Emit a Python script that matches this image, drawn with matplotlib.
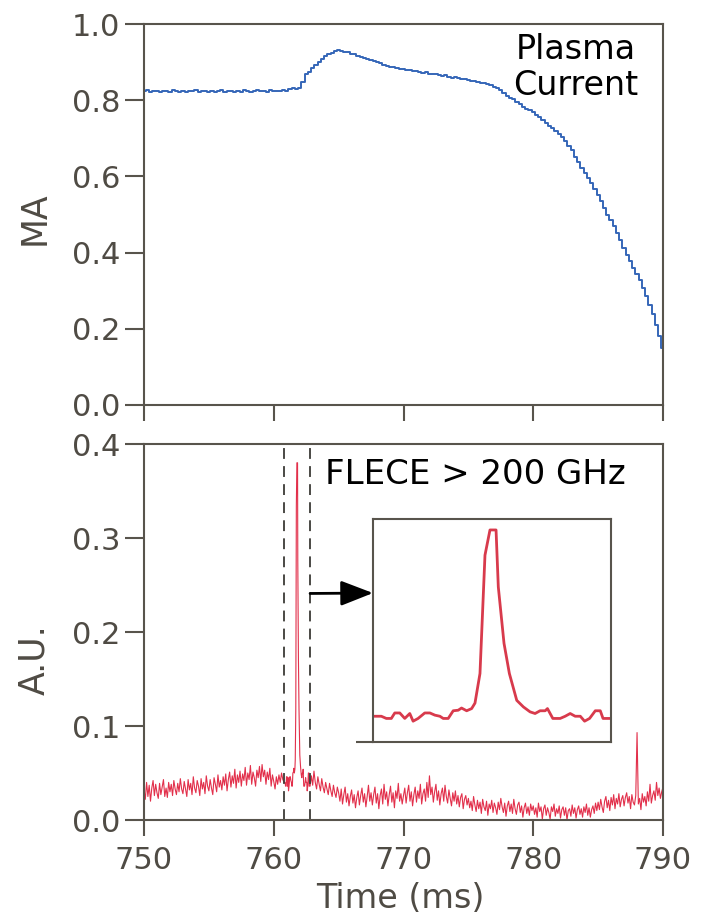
import numpy as np
import matplotlib
matplotlib.use("Agg")
import matplotlib.pyplot as plt

# plasma current (MA), sampled every 0.25 ms from 750 to 790 ms
current_t0 = 750.0
current_dt = 0.25
current_ma = [
    0.823, 0.826, 0.822, 0.825, 0.823, 0.821, 0.825, 0.824, 0.822, 0.826,
    0.823, 0.822, 0.824, 0.821, 0.825, 0.823, 0.826, 0.822, 0.824, 0.823,
    0.821, 0.825, 0.822, 0.824, 0.826, 0.822, 0.823, 0.825, 0.821, 0.824,
    0.822, 0.826, 0.823, 0.821, 0.825, 0.827, 0.823, 0.825, 0.822, 0.826,
    0.824, 0.823, 0.825, 0.826, 0.824, 0.830, 0.831, 0.830, 0.833, 0.848,
    0.868, 0.874, 0.885, 0.893, 0.900, 0.908, 0.915, 0.920, 0.924, 0.928,
    0.931, 0.929, 0.927, 0.926, 0.922, 0.920, 0.916, 0.914, 0.910, 0.909,
    0.905, 0.902, 0.899, 0.897, 0.893, 0.890, 0.888, 0.886, 0.884, 0.882,
    0.881, 0.879, 0.878, 0.876, 0.877, 0.874, 0.872, 0.873, 0.870, 0.868,
    0.869, 0.866, 0.864, 0.865, 0.862, 0.859, 0.860, 0.857, 0.855, 0.856,
    0.853, 0.851, 0.850, 0.847, 0.845, 0.846, 0.843, 0.840, 0.835, 0.833,
    0.826, 0.820, 0.812, 0.807, 0.803, 0.795, 0.790, 0.783, 0.778, 0.773,
    0.768, 0.760, 0.755, 0.748, 0.740, 0.733, 0.727, 0.718, 0.712, 0.703,
    0.692, 0.680, 0.668, 0.652, 0.638, 0.622, 0.610, 0.597, 0.583, 0.568,
    0.552, 0.535, 0.518, 0.500, 0.485, 0.470, 0.452, 0.432, 0.412, 0.395,
    0.378, 0.360, 0.345, 0.328, 0.308, 0.285, 0.262, 0.238, 0.210, 0.180,
    0.150,
]

# FLECE > 200 GHz, thousandths of A.U., 0.1 ms samples
flece_pre_t0 = 750.0
flece_pre = [
    32, 22, 40, 25, 37, 20, 34, 42, 26, 38, 29, 23, 39, 27, 35, 43, 25, 34, 24, 40,
    30, 38, 26, 42, 33, 27, 39, 30, 44, 33,
    28, 41, 33, 25, 43, 32, 39, 27, 46, 34, 29, 42, 36, 26, 44, 33, 40, 28, 47, 36,
    31, 43, 34, 27, 45, 38, 30, 48, 35, 42,
    32, 46, 37, 49, 31, 43, 51, 35, 47, 39, 54, 34, 48, 40, 52, 36, 49, 42, 56, 37,
    50, 43, 58, 38, 51, 45, 36, 53, 45, 57,
    41, 59, 46, 53, 38, 51, 43, 55, 36, 48, 41, 33, 46, 38, 48, 40, 50, 43,
]
flece_post_t0 = 762.9
flece_post = [
    47, 37, 52, 40, 33, 46, 38, 31, 44, 35, 29, 40, 33, 27, 39, 31, 25, 37, 29, 24, 35,
    29, 20, 33, 17, 27, 35, 19, 28, 15, 25, 32, 18, 27, 13, 24, 31, 16, 26, 34, 19,
    28, 14, 25, 37, 20, 29, 16, 27, 35, 18, 28, 12, 26, 33, 17, 38, 22, 30, 15, 27,
    36, 19, 29, 13, 31, 23, 39, 20, 28, 17,
    26, 34, 18, 29, 37, 20, 30, 15, 27, 35, 19, 31, 23, 38, 17, 28, 33, 20, 40, 24,
    47, 27, 35, 19, 30, 38, 21, 31, 16, 28, 34, 20, 37, 25, 18, 32, 23, 15, 29, 20,
    31, 17, 26, 14, 24, 28, 12, 22, 26, 16,
    23, 13, 20, 10, 25, 16, 9, 21, 12, 19, 7, 22, 14, 10, 20, 5, 17, 12, 21, 8,
    18, 13, 6, 19, 11, 23, 14, 8, 18, 4, 15, 20, 9, 17, 7, 22, 12, 6, 16, 19,
    8, 15, 3, 13, 18, 7, 14, 5, 17, 10,
    15, 6, 13, 3, 18, 9, 14, 1, 12, 16, 5, 13, 8, 1, 14, 9, 17, 4, 12, 7,
    15, 2, 11, 14, 5, 13, 0, 10, 12, 4, 16, 7, 13, 2, 11, 15, 6, 12, 3, 14,
    8, 17, 5, 13, 3, 11, 15, 7, 18, 10,
    19, 11, 22, 14, 8, 20, 25, 13, 21, 10, 24, 16, 27, 12, 23, 17, 28, 14, 22, 26,
    15, 24, 29, 18, 25, 12, 27, 19, 16, 26, 93, 17, 23, 11, 28, 19, 25, 15, 30, 20,
    38, 18, 26, 31, 21, 40, 26, 34, 23, 30, 35,
]

# burst window (zoomed in the inset)
burst_t = [
    760.800, 760.870, 760.912, 760.954, 760.983, 761.025, 761.067, 761.109,
    761.137, 761.179, 761.235, 761.278, 761.320, 761.362, 761.390, 761.432,
    761.474, 761.516, 761.544, 761.587, 761.629, 761.657, 761.699, 761.741,
    761.783, 761.834, 761.853, 761.901, 761.946, 762.008, 762.064, 762.120,
    762.162, 762.204, 762.247, 762.266, 762.311, 762.373, 762.415, 762.457,
    762.499, 762.542, 762.578, 762.620, 762.668, 762.710, 762.733, 762.800,
]
burst_au = [
    0.040, 0.040, 0.036, 0.036, 0.046, 0.046, 0.036, 0.045,
    0.031, 0.036, 0.046, 0.046, 0.042, 0.040, 0.036, 0.036,
    0.050, 0.051, 0.055, 0.050, 0.054, 0.064, 0.118, 0.334,
    0.380, 0.380, 0.276, 0.173, 0.118, 0.069, 0.057, 0.048,
    0.045, 0.050, 0.050, 0.054, 0.036, 0.036, 0.040, 0.045,
    0.040, 0.040, 0.031, 0.036, 0.050, 0.050, 0.036, 0.036,
]
window = (760.8, 762.8)

axis_col = '#58544c'
label_col = '#4f4b44'
blue = '#3566b8'
red = '#e2304b'

plt.rcParams['font.family'] = ['DejaVu Sans']

fig = plt.figure(figsize=(7.02, 9.19), dpi=100)
ax1 = fig.add_axes([144 / 702, 1 - 405 / 919, 519 / 702, 381 / 919])
ax2 = fig.add_axes([144 / 702, 1 - 820 / 919, 519 / 702, 376 / 919])

for ax in (ax1, ax2):
    for sp in ax.spines.values():
        sp.set_color(axis_col)
        sp.set_linewidth(1.5)
    ax.set_xlim(750, 790)
    ax.set_xticks([750, 760, 770, 780, 790])
    ax.tick_params(axis='both', direction='out', color=axis_col, width=1.5,
                   labelcolor=label_col, labelsize=22)
    ax.tick_params(axis='y', length=14, pad=3, right=False)
    ax.tick_params(axis='x', length=11.5, pad=7, top=False)

# top: plasma current
t_cur = current_t0 + current_dt * np.arange(len(current_ma))
ax1.plot(t_cur, current_ma, color=blue, lw=1.4, drawstyle='steps-mid')
ax1.set_ylim(0, 1.0)
ax1.set_yticks(np.arange(0, 1.01, 0.2))
ax1.set_yticklabels(['%.1f' % v for v in np.arange(0, 1.01, 0.2)])
ax1.tick_params(axis='x', labelbottom=False)
ax1.set_ylabel('MA', fontsize=25, color=label_col)
ax1.yaxis.set_label_coords(-0.178, 0.49)
ax1.text(783.3, 0.908, 'Plasma', fontsize=24, ha='center', va='baseline')
ax1.text(783.3, 0.814, 'Current', fontsize=24, ha='center', va='baseline')

# bottom: FLECE
t_pre = flece_pre_t0 + 0.1 * np.arange(len(flece_pre))
t_post = flece_post_t0 + 0.1 * np.arange(len(flece_post))
t_fl = np.concatenate([t_pre, burst_t, t_post])
v_fl = np.concatenate([np.array(flece_pre) / 1000.0, burst_au,
                       np.array(flece_post) / 1000.0])
ax2.plot(t_fl, v_fl, color=red, lw=0.8)
ax2.set_ylim(0, 0.4)
ax2.set_yticks([0, 0.1, 0.2, 0.3, 0.4])
ax2.set_yticklabels(['0.0', '0.1', '0.2', '0.3', '0.4'])
ax2.set_ylabel('A.U.', fontsize=25, color=label_col)
ax2.yaxis.set_label_coords(-0.178, 0.426)
ax2.set_xlabel('Time (ms)', fontsize=24, color=label_col)
ax2.xaxis.set_label_coords(0.494, -0.165)
for x in window:
    ax2.axvline(x, color='#3c3a36', lw=1.3, ls=(0, (6, 4)))
ax2.text(763.95, 0.357, 'FLECE > 200 GHz', fontsize=24.5, ha='left', va='baseline')

# inset
axi = fig.add_axes([373 / 702, 1 - 742 / 919, 238 / 702, 223 / 919])
axi.plot(burst_t, burst_au, color='#d83a4c', lw=2.0)
axi.set_xlim(*window)
axi.set_ylim(-0.007, 0.40)
axi.set_xticks([])
axi.set_yticks([-0.007])
axi.tick_params(axis='y', direction='out', length=12, width=1.5,
                color=axis_col, labelleft=False)
for sp in axi.spines.values():
    sp.set_color(axis_col)
    sp.set_linewidth(1.5)

ax2.annotate('', xy=(0, 0.668), xycoords=axi.transAxes,
             xytext=(window[1], 0.241), textcoords='data',
             arrowprops=dict(arrowstyle='-|>,head_length=0.9,head_width=0.35',
                             color='black', lw=2, shrinkA=0, shrinkB=0,
                             mutation_scale=22))

fig.savefig('out.png', dpi=100)
